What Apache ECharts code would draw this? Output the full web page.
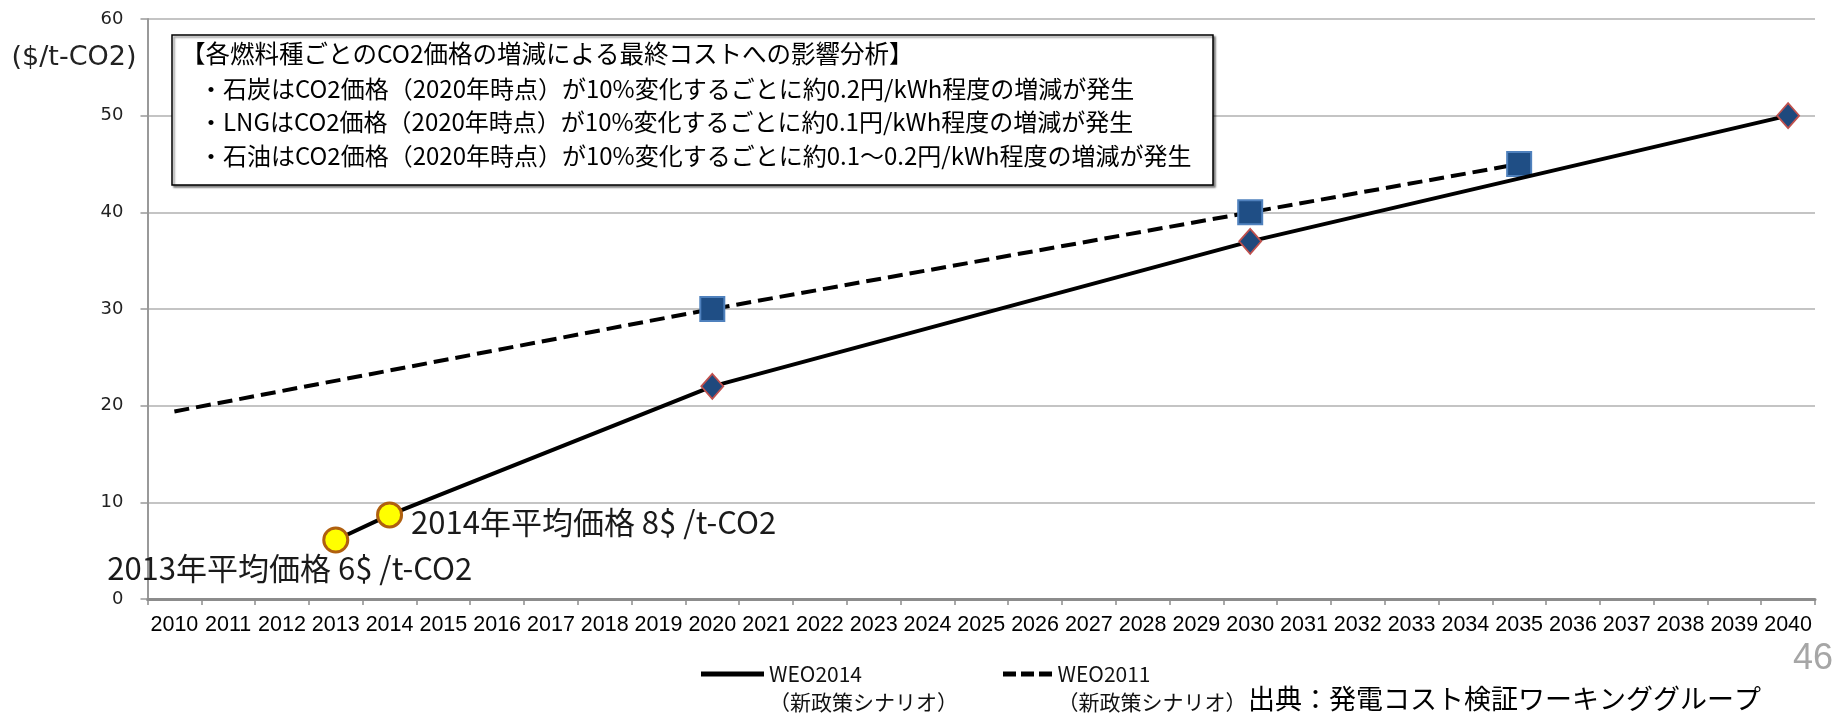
<!DOCTYPE html>
<html><head><meta charset="utf-8">
<script src="https://cdn.jsdelivr.net/npm/echarts@6/dist/echarts.min.js"></script>
<style>html,body{margin:0;padding:0;background:#fff}#chart{width:1835px;height:714px}</style>
</head><body><div id="chart"></div>
<script>
// ---- data ----
const years = ['2010','2011','2012','2013','2014','2015','2016','2017','2018','2019','2020','2021','2022','2023','2024','2025','2026','2027','2028','2029','2030','2031','2032','2033','2034','2035','2036','2037','2038','2039','2040'];
const weo2014Years = ['2013','2014','2020','2030','2040'];
const weo2014Values = [6.1, 8.7, 22, 37, 50];
const weo2014Notes = ['2013年平均価格 6$ /t-CO2', '2014年平均価格 8$ /t-CO2', '', '', ''];
const weo2011Years = ['2010','2020','2030','2035'];
const weo2011Values = [19.4, 30, 40, 45];
const legendNames = ['WEO2014\n（新政策シナリオ）', 'WEO2011\n（新政策シナリオ）'];
const yAxisTitle = '($/t-CO2)';
const boxTitle = '【各燃料種ごとのCO2価格の増減による最終コストへの影響分析】';
const boxLines = [
  '・石炭はCO2価格（2020年時点）が10%変化するごとに約0.2円/kWh程度の増減が発生',
  '・LNGはCO2価格（2020年時点）が10%変化するごとに約0.1円/kWh程度の増減が発生',
  '・石油はCO2価格（2020年時点）が10%変化するごとに約0.1～0.2円/kWh程度の増減が発生'
];
const sourceText = '出典：発電コスト検証ワーキンググループ';
const pageNumber = '46';

// ---- styling ----
const JP = '"Noto Sans CJK JP", "Noto Sans", sans-serif';
const noteLabelPlacement = [
  { position: 'inside', align: 'center', offset: [-46, 28] },
  { position: 'right', distance: 8, offset: [0, 7] }
];

const weo2014Data = weo2014Years.map((y, i) => {
  const actual = weo2014Notes[i] !== '';
  return {
    value: [years.indexOf(y), weo2014Values[i]],
    symbol: actual ? 'circle' : 'diamond',
    symbolSize: actual ? 24 : [22, 25],
    itemStyle: actual
      ? { color: '#ffff00', borderColor: '#b0600f', borderWidth: 3 }
      : { color: '#1f497d', borderColor: '#c0504d', borderWidth: 1.8 },
    label: actual ? Object.assign({
      show: true, formatter: weo2014Notes[i], fontSize: 31, fontFamily: JP, color: '#1a1a1a'
    }, noteLabelPlacement[i]) : { show: false }
  };
});
const weo2011Data = weo2011Years.map((y, i) => ({
  value: [years.indexOf(y), weo2011Values[i]],
  symbol: i === 0 ? 'none' : 'rect',
  symbolSize: 24,
  itemStyle: { color: '#1f4e85', borderColor: '#4f81bd', borderWidth: 2 }
}));

const chart = echarts.init(document.getElementById('chart'), null, { renderer: 'canvas' });
const legendText = { fontSize: 21, fontFamily: JP, color: '#111', lineHeight: 28 };
const legendFormatter = (n) => ' \n' + n;
chart.setOption({
  animation: false,
  backgroundColor: '#fff',
  grid: { left: 147.5, right: 20, top: 19, bottom: 115, outerBoundsMode: 'none' },
  xAxis: {
    type: 'category', data: years, boundaryGap: true,
    axisLine: { lineStyle: { color: '#8c8c8c', width: 3 } },
    axisTick: { show: true, interval: 0, length: 6, lineStyle: { color: '#8c8c8c', width: 1.5 } },
    axisLabel: { interval: 0, fontSize: 21.5, fontFamily: '"Liberation Sans", sans-serif', color: '#000', margin: 15 },
    splitLine: { show: false }
  },
  yAxis: {
    type: 'value', min: 0, max: 60, interval: 10,
    name: yAxisTitle, nameLocation: 'end', nameGap: -39,
    nameTextStyle: { fontSize: 27, fontFamily: '"DejaVu Sans", sans-serif', color: '#222', align: 'right', verticalAlign: 'middle', padding: [0, 11, 0, 0] },
    axisLine: { show: true, lineStyle: { color: '#999', width: 2 } },
    axisTick: { show: true, length: 7, lineStyle: { color: '#999', width: 1.5 } },
    axisLabel: { fontSize: 18, fontFamily: '"DejaVu Sans", sans-serif', color: '#222', margin: 24 },
    splitLine: { lineStyle: { color: '#c4c4c4', width: 2 } }
  },
  legend: [
    { data: [{ name: legendNames[0], icon: 'rect', itemStyle: { color: '#000', borderWidth: 0 } }],
      formatter: legendFormatter,
      left: 696, top: 627, itemWidth: 63, itemHeight: 5, selectedMode: false, textStyle: legendText },
    { data: [{ name: legendNames[1], icon: 'path://M0,0h13v5h-13z M18,0h13v5h-13z M36,0h13v5h-13z', itemStyle: { color: '#000', borderWidth: 0 } }],
      formatter: legendFormatter,
      left: 998, top: 627, itemWidth: 50, itemHeight: 5, selectedMode: false, textStyle: legendText }
  ],
  series: [
    { name: legendNames[1], type: 'line', color: '#000', silent: true, z: 3,
      lineStyle: { color: '#000', width: 4, type: [15, 7] }, data: weo2011Data },
    { name: legendNames[0], type: 'line', color: '#000', silent: true, z: 4,
      lineStyle: { color: '#000', width: 4 }, data: weo2014Data }
  ],
  graphic: [
    { type: 'rect', z: 100, shape: { x: 172, y: 35, width: 1041, height: 150 },
      style: { fill: '#fff', stroke: '#000', lineWidth: 1.5, shadowColor: 'rgba(0,0,0,0.45)', shadowOffsetX: 2, shadowOffsetY: 2, shadowBlur: 2 } },
    { type: 'text', x: 181, y: 54, z: 101, style: { text: boxTitle, font: '24.5px ' + JP, fill: '#000', verticalAlign: 'middle' } },
    { type: 'text', x: 199, y: 89, z: 101, style: { text: boxLines[0], font: '24px ' + JP, fill: '#000', verticalAlign: 'middle' } },
    { type: 'text', x: 199, y: 122, z: 101, style: { text: boxLines[1], font: '24px ' + JP, fill: '#000', verticalAlign: 'middle' } },
    { type: 'text', x: 199, y: 156, z: 101, style: { text: boxLines[2], font: '24px ' + JP, fill: '#000', verticalAlign: 'middle' } },
    { type: 'text', x: 1833, y: 659, z: 100, style: { text: pageNumber, font: '36px "Liberation Sans", sans-serif', fill: '#a6a6a6', align: 'right', verticalAlign: 'middle' } },
    { type: 'text', x: 1248, y: 699, z: 100, style: { text: sourceText, font: '27px ' + JP, fill: '#000', verticalAlign: 'middle' } }
  ]
});
</script></body></html>
